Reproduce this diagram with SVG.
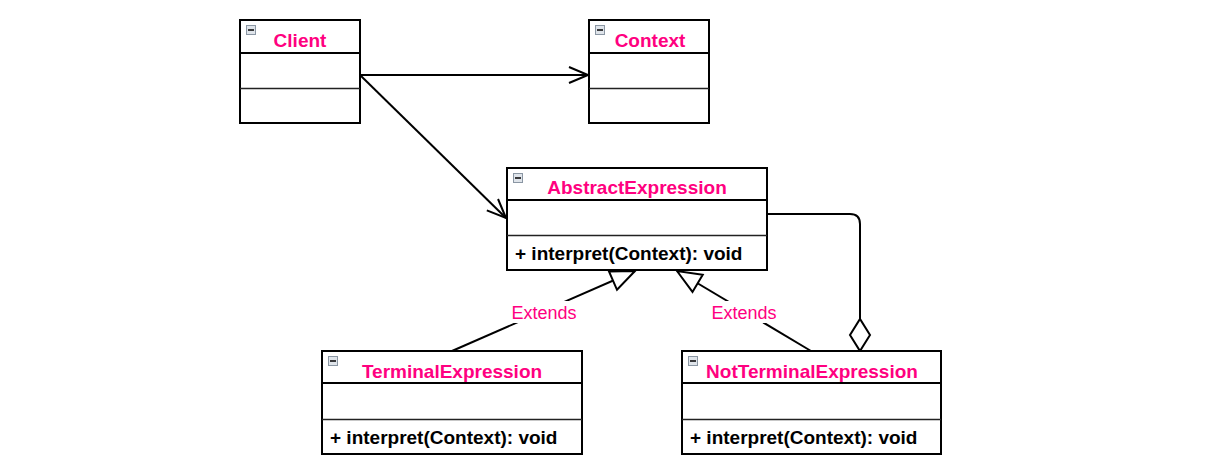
<svg xmlns="http://www.w3.org/2000/svg" width="1222" height="474" viewBox="0 0 1222 474">
<style>
.box{fill:#fff;stroke:#000;stroke-width:2}
.hdr{stroke:#000;stroke-width:2}
.div{stroke:#222;stroke-width:1.3}
.title{font-family:"Liberation Sans",Arial,sans-serif;font-weight:bold;font-size:19px;fill:#FF0080;text-anchor:middle}
.meth{font-family:"Liberation Sans",Arial,sans-serif;font-weight:bold;font-size:19px;fill:#000}
.lbl{font-family:"Liberation Sans",Arial,sans-serif;font-size:18px;fill:#FF0080;text-anchor:middle}
.icon{fill:#dfe4ea;stroke:#8a96a3;stroke-width:1}
.iconbar{stroke:#000;stroke-width:1.5}
.conn{fill:none;stroke:#000;stroke-width:2}
</style>
<defs>
<marker id="open" markerUnits="userSpaceOnUse" markerWidth="24" markerHeight="20" viewBox="-21 -10 23 20" refX="0" refY="0" orient="auto">
<path d="M-19,-8 L0,0 L-19,8" fill="none" stroke="#000" stroke-width="2"/>
</marker>
<marker id="tri" markerUnits="userSpaceOnUse" markerWidth="28" markerHeight="26" viewBox="-26 -13 28 26" refX="0" refY="0" orient="auto">
<path d="M0,0 L-24,-10 L-24,10 Z" fill="#fff" stroke="#000" stroke-width="2"/>
</marker>
<marker id="dia" markerUnits="userSpaceOnUse" markerWidth="36" markerHeight="24" viewBox="-34 -12 36 24" refX="0" refY="0" orient="auto">
<path d="M0,0 L-16,-10 L-32,0 L-16,10 Z" fill="#fff" stroke="#000" stroke-width="2"/>
</marker>
</defs>
<rect width="1222" height="474" fill="#fff"/>
<g id="connectors">
<path class="conn" d="M360,75 L588,75" marker-end="url(#open)"/>
<path class="conn" d="M360,75 L506,218" marker-end="url(#open)"/>
<path class="conn" d="M767,214 H850 Q860,214 860,224 V351" marker-end="url(#dia)"/>
<path class="conn" d="M452,351 L635,271" marker-end="url(#tri)"/>
<path class="conn" d="M811,351 L677,271" marker-end="url(#tri)"/>
<rect x="511" y="301" width="66" height="22" fill="#fff"/>
<text class="lbl" x="544" y="319">Extends</text>
<rect x="711" y="301" width="66" height="22" fill="#fff"/>
<text class="lbl" x="744" y="319">Extends</text>
</g>
<g id="Client">
<rect class="box" x="240" y="20" width="120" height="103"/>
<line class="hdr" x1="240" y1="53" x2="360" y2="53"/>
<line class="div" x1="240" y1="88.5" x2="360" y2="88.5"/>
<rect class="icon" x="246.5" y="25.5" width="9" height="9"/>
<line class="iconbar" x1="248" y1="30" x2="254" y2="30"/>
<text class="title" x="300" y="47">Client</text>
</g>
<g id="Context">
<rect class="box" x="589" y="20" width="120" height="103"/>
<line class="hdr" x1="589" y1="53" x2="709" y2="53"/>
<line class="div" x1="589" y1="88.5" x2="709" y2="88.5"/>
<rect class="icon" x="595.5" y="25.5" width="9" height="9"/>
<line class="iconbar" x1="597" y1="30" x2="603" y2="30"/>
<text class="title" x="650" y="47">Context</text>
</g>
<g id="AbstractExpression">
<rect class="box" x="507" y="168" width="260" height="102"/>
<line class="hdr" x1="507" y1="200" x2="767" y2="200"/>
<line class="div" x1="507" y1="235.5" x2="767" y2="235.5"/>
<rect class="icon" x="513.5" y="173.5" width="9" height="9"/>
<line class="iconbar" x1="515" y1="178" x2="521" y2="178"/>
<text class="title" x="637" y="194">AbstractExpression</text>
<text class="meth" x="515" y="260">+ interpret(Context): void</text>
</g>
<g id="TerminalExpression">
<rect class="box" x="322" y="351" width="260" height="103"/>
<line class="hdr" x1="322" y1="383" x2="582" y2="383"/>
<line class="div" x1="322" y1="419.5" x2="582" y2="419.5"/>
<rect class="icon" x="328.5" y="356.5" width="9" height="9"/>
<line class="iconbar" x1="330" y1="361" x2="336" y2="361"/>
<text class="title" x="452" y="378">TerminalExpression</text>
<text class="meth" x="330" y="444">+ interpret(Context): void</text>
</g>
<g id="NotTerminalExpression">
<rect class="box" x="682" y="351" width="259" height="103"/>
<line class="hdr" x1="682" y1="383" x2="941" y2="383"/>
<line class="div" x1="682" y1="419.5" x2="941" y2="419.5"/>
<rect class="icon" x="688.5" y="356.5" width="9" height="9"/>
<line class="iconbar" x1="690" y1="361" x2="696" y2="361"/>
<text class="title" x="812" y="378">NotTerminalExpression</text>
<text class="meth" x="690" y="444">+ interpret(Context): void</text>
</g>
</svg>
